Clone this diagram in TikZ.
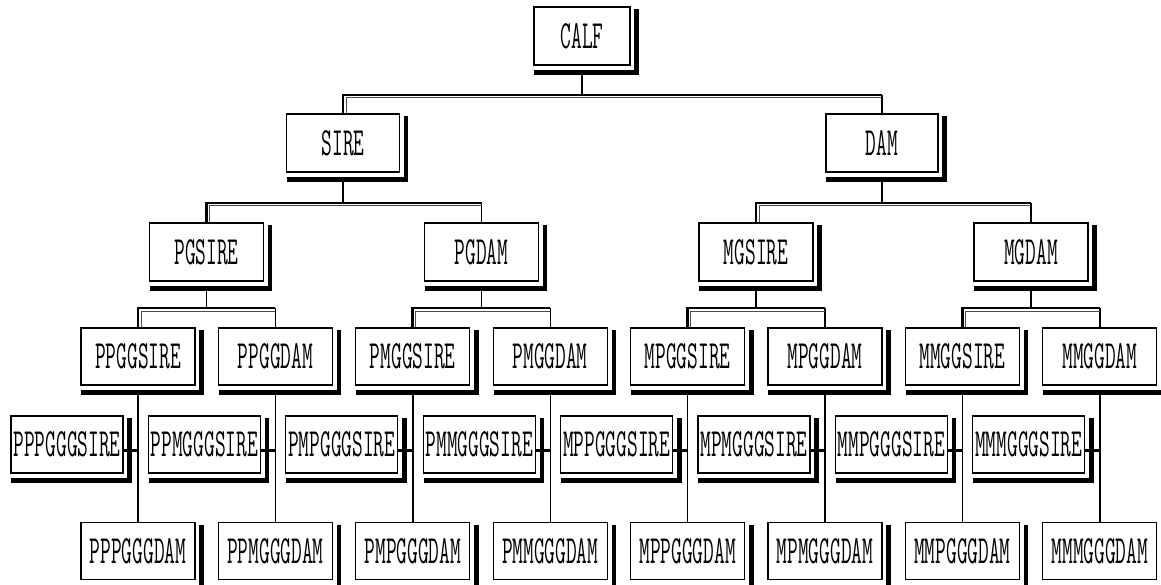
\documentclass[tikz,border=0pt]{standalone}
\usepackage{graphicx}
\newcommand{\lblfont}{\fontsize{40}{41}\selectfont\ttfamily}
\newcommand{\lbl}[1]{\scalebox{0.52}[1]{#1}}
\tikzset{
  box/.style={draw, line width=1.3pt, minimum width=114pt, minimum height=57pt,
    inner sep=0pt, font=\lblfont, fill=white},
  conn/.style={line width=1.4pt},
  barthick/.style={line width=2.8pt, line join=miter},
  barthin/.style={line width=1pt, line join=miter, draw=black!70},
  shadowline/.style={line width=4.5pt, line join=miter},
  stub/.style={line width=3pt},
}
\newcommand{\shadowof}[1]{%
  \draw[shadowline] ([shift={(1pt,-7pt)}]#1.south west) -- ([shift={(6pt,-7pt)}]#1.south east)
    -- ([shift={(6pt,-3pt)}]#1.north east);}
\newcommand{\treebar}[3]{%
  \coordinate (tb1) at (0,#3);
  \coordinate (tb2) at (0,#3+3);
  \path ([xshift=3pt]#1.north) coordinate (tb3);
  \draw[barthick] (#1.north) -- (#1.north |- tb1) -- (#2.north |- tb1);
  \draw[conn] (#2.north |- tb1) -- (#2.north);
  \draw[barthin] (tb3) -- (tb3 |- tb2) -- (#2.north |- tb2);
}
\begin{document}
\begin{tikzpicture}[x=1pt,y=-1pt]
\useasboundingbox (0,0) rectangle (1161,585);
\clip (0,0) rectangle (1161,585);
% nodes
\node[box, minimum width=96pt, minimum height=58pt] (calf) at (582,36) {\lbl{CALF}};
\node[box, minimum width=113pt, minimum height=58pt] (sire) at (343,143) {\lbl{SIRE}};
\node[box, minimum width=112pt, minimum height=58pt] (dam) at (882,143) {\lbl{DAM}};
\node[box, minimum height=58pt] (pgsire) at (206.5,252) {\lbl{PGSIRE}};
\node[box, minimum height=58pt] (pgdam) at (481.5,252) {\lbl{PGDAM}};
\node[box, minimum height=58pt] (mgsire) at (756,252) {\lbl{MGSIRE}};
\node[box, minimum height=58pt] (mgdam) at (1031,252) {\lbl{MGDAM}};
\foreach \t [count=\i] in {PPGGSIRE,PPGGDAM,PMGGSIRE,PMGGDAM,MPGGSIRE,MPGGDAM,MMGGSIRE,MMGGDAM}{
  \pgfmathsetmacro\cx{138+137.4*(\i-1)}
  \node[box] (a\i) at (\cx,356.5) {\lbl{\t}};
}
\foreach \t [count=\i] in {PPPGGGSIRE,PPMGGGSIRE,PMPGGGSIRE,PMMGGGSIRE,MPPGGGSIRE,MPMGGGSIRE,MMPGGGSIRE,MMMGGGSIRE}{
  \pgfmathsetmacro\cx{138+137.4*(\i-1)-71}
  \node[box, minimum width=112pt] (s\i) at (\cx,444.5) {\lbl{\t}};
}
\foreach \t [count=\i] in {PPPGGGDAM,PPMGGGDAM,PMPGGGDAM,PMMGGGDAM,MPPGGGDAM,MPMGGGDAM,MMPGGGDAM,MMMGGGDAM}{
  \pgfmathsetmacro\cx{138+137.4*(\i-1)}
  \node[box] (d\i) at (\cx,551) {\lbl{\t}};
}
% shadows
\foreach \n in {calf,sire,dam,pgsire,pgdam,mgsire,mgdam,a1,a2,a3,a4,a5,a6,a7,a8,s1,s2,s3,s4,s5,s6,s7,s8,d1,d2,d3,d4,d5,d6,d7,d8}{
  \shadowof{\n}
}
% level 0 -> 1
\treebar{sire}{dam}{95}
\draw[conn] ([yshift=-9pt]calf.south) -- (calf.south |- tb1);
% level 1 -> 2
\treebar{pgsire}{pgdam}{203}
\draw[conn] ([yshift=-9pt]sire.south) -- (sire.south |- tb1);
\treebar{mgsire}{mgdam}{203}
\draw[conn] ([yshift=-9pt]dam.south) -- (dam.south |- tb1);
% level 2 -> 3
\treebar{a1}{a2}{308}
\draw[conn] ([yshift=-9pt]pgsire.south) -- (pgsire.south |- tb1);
\treebar{a3}{a4}{308}
\draw[conn] ([yshift=-9pt]pgdam.south) -- (pgdam.south |- tb1);
\treebar{a5}{a6}{308}
\draw[conn] ([yshift=-9pt]mgsire.south) -- (mgsire.south |- tb1);
\treebar{a7}{a8}{308}
\draw[conn] ([yshift=-9pt]mgdam.south) -- (mgdam.south |- tb1);
% level 3 -> 4
\foreach \i in {1,...,8}{
  \draw[conn] ([yshift=-9pt]a\i.south) -- (d\i.north);
  \path ([yshift=-6pt]s\i.east) coordinate (st);
  \draw[stub] (st) -- (st -| a\i.south);
}
\end{tikzpicture}
\end{document}
